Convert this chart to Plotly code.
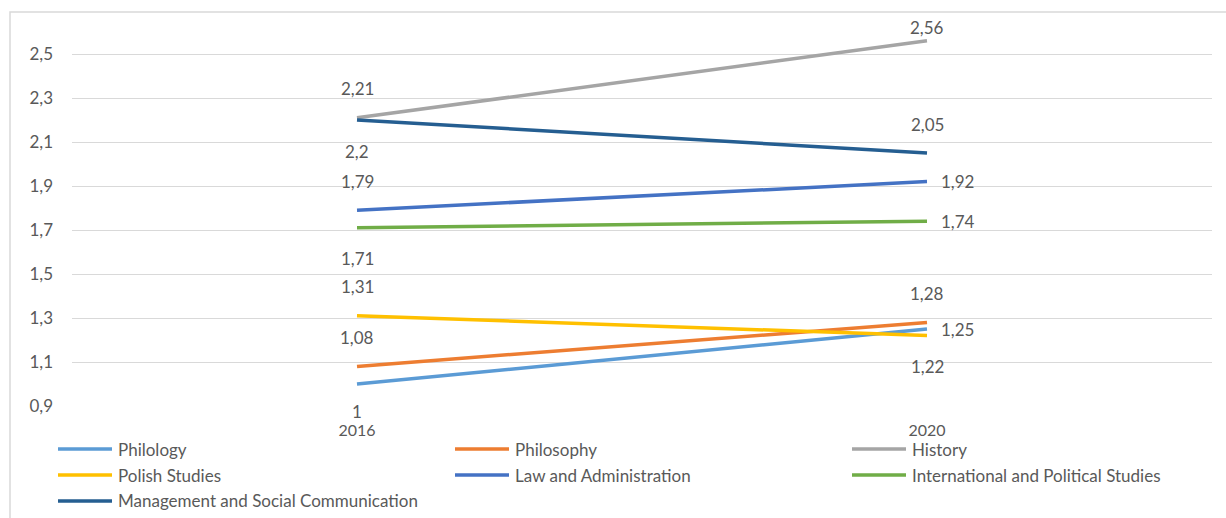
import plotly.graph_objects as go

# Survey years on the category axis
years = ["2016", "2020"]

# Values per field of study
philology = [1.00, 1.25]
philosophy = [1.08, 1.28]
history = [2.21, 2.56]
polish_studies = [1.31, 1.22]
law_admin = [1.79, 1.92]
intl_political = [1.71, 1.74]
management_comm = [2.20, 2.05]

names = [
    "Philology",
    "Philosophy",
    "History",
    "Polish Studies",
    "Law and Administration",
    "International and Political Studies",
    "Management and Social Communication",
]
series = [philology, philosophy, history, polish_studies,
          law_admin, intl_political, management_comm]
colors = ["#5B9BD5", "#ED7D31", "#A5A5A5", "#FFC000",
          "#4472C4", "#70AD47", "#255E91"]

# Where each data label sits relative to its point: (2016, 2020)
label_pos = [
    ("below", "right"),
    ("above", "above"),
    ("above", "above"),
    ("above", "below"),
    ("above", "right"),
    ("below", "right"),
    ("below", "above"),
]

FONT = "Lato, Carlito, Calibri, sans-serif"
TEXT = "#595959"
FS = 17

# Plot-area geometry in pixels (used for the hand-built legend and frame)
W, H = 1226, 518
ML, MR, MT, MB = 72, 14, 32, 112
PW, PH = W - ML - MR, H - MT - MB
Y0, Y1 = 0.9, 2.6
FRAME_TOP = 12


def px_x(px):
    return (px - ML) / PW


def px_y(py):
    return (H - MB - py) / PH


def val_to_px(v):
    return H - MB - (v - Y0) / (Y1 - Y0) * PH


fig = go.Figure()
annotations = []
shapes = []
for i, (name, vals, col, pos) in enumerate(zip(names, series, colors, label_pos)):
    fig.add_trace(go.Scatter(
        x=years, y=vals, name=name, mode="lines",
        line=dict(color=col, width=3.5),
    ))
    for xi, (v, p) in enumerate(zip(vals, pos)):
        label = f"{v:g}".replace(".", ",")
        a = dict(x=xi, y=v, xref="x", yref="y", text=label, showarrow=False,
                 font=dict(family=FONT, size=FS, color=TEXT))
        if p == "above":
            # keep the label inside the chart frame
            room = val_to_px(v) - FRAME_TOP - 16
            a.update(yshift=min(29, room))
        elif p == "below":
            # stay clear of the category labels under the lowest gridline
            floor = (v - Y0) / (Y1 - Y0) * PH + 5
            a.update(yshift=-min(31, floor))
        else:
            a.update(xanchor="left", xshift=12)
        annotations.append(a)

    # Legend entry: three columns, rows 26 px apart
    row, colno = divmod(i, 3)
    lx = 58 + colno * 397
    ly = 449 + row * 26
    shapes.append(dict(type="line", xref="paper", yref="paper",
                       x0=px_x(lx), x1=px_x(lx + 54), y0=px_y(ly), y1=px_y(ly),
                       line=dict(color=col, width=3.5)))
    annotations.append(dict(x=px_x(lx + 58), y=px_y(ly), xref="paper", yref="paper",
                            text=name, showarrow=False, xanchor="left",
                            yanchor="middle",
                            font=dict(family=FONT, size=FS, color=TEXT)))

# Outer chart frame (runs off the right and bottom edges)
shapes.append(dict(type="rect", xref="paper", yref="paper",
                   x0=px_x(10), x1=px_x(1240), y0=px_y(530), y1=px_y(FRAME_TOP),
                   line=dict(color="#D9D9D9", width=1.5)))

fig.update_layout(
    width=W, height=H,
    margin=dict(l=ML, r=MR, t=MT, b=MB, autoexpand=False),
    paper_bgcolor="white", plot_bgcolor="white",
    separators=", ",
    font=dict(family=FONT, size=FS, color=TEXT),
    annotations=annotations,
    shapes=shapes,
    showlegend=False,
)
fig.update_xaxes(
    type="category", range=[-0.5, 1.5], showgrid=False, zeroline=False,
    showline=False, ticks="", ticklabelstandoff=13,
    tickfont=dict(family=FONT, size=16, color=TEXT),
)
fig.update_yaxes(
    range=[Y0, Y1], tick0=0.9, dtick=0.2, tickformat=".1f",
    showgrid=True, gridcolor="#D9D9D9", gridwidth=1, zeroline=False,
    showline=False, ticklabelstandoff=18,
    tickfont=dict(family=FONT, size=FS, color=TEXT),
)

fig.write_html("out.html")
